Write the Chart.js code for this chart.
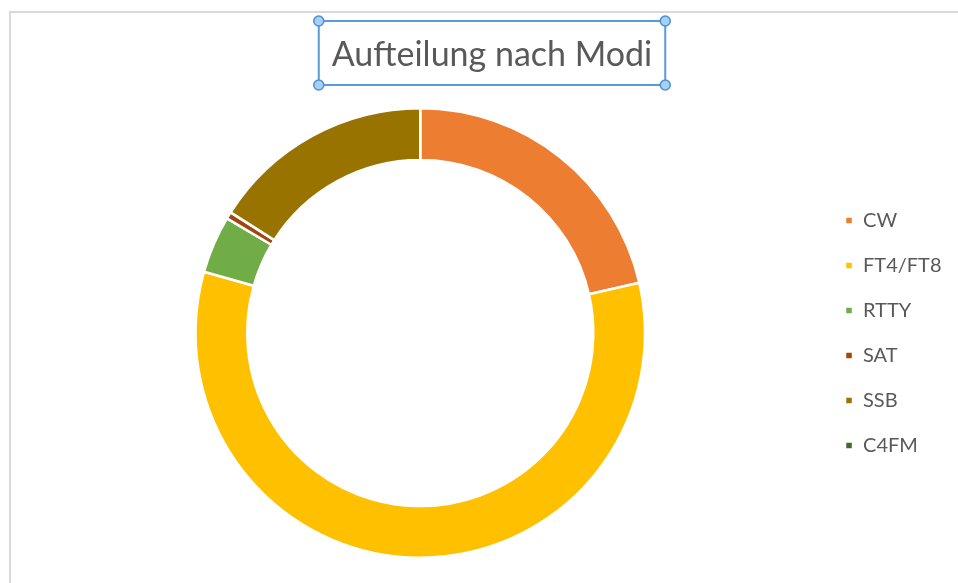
<!DOCTYPE html>
<html>
<head>
<meta charset="utf-8">
<script src="https://cdn.jsdelivr.net/npm/chart.js@4/dist/chart.umd.min.js"></script>
<style>
  html, body { margin: 0; padding: 0; background: #fff; }
  #wrap { width: 958px; height: 583px; position: relative; }
</style>
</head>
<body>
<div id="wrap"><canvas id="modiChart"></canvas></div>
<script>
const categories = ['CW', 'FT4/FT8', 'RTTY', 'SAT', 'SSB', 'C4FM'];
const qsoCounts = [213, 577, 41, 5, 159, 0];
const segmentColors = ['#ED7D31', '#FFC000', '#70AD47', '#9E480E', '#997300', '#43682B'];
const chartTitle = 'Aufteilung nach Modi';

const fontFamily = 'Lato, "Liberation Sans", sans-serif';

// frame + selected title box like in the spreadsheet screenshot
const decorPlugin = {
  id: 'decor',
  beforeDraw(chart) {
    const ctx = chart.ctx;
    ctx.save();
    ctx.strokeStyle = '#d9d9d9';
    ctx.lineWidth = 2;
    ctx.beginPath();
    ctx.moveTo(10, chart.height);
    ctx.lineTo(10, 12);
    ctx.lineTo(chart.width, 12);
    ctx.stroke();
    ctx.restore();
  },
  afterDraw(chart) {
    const ctx = chart.ctx;
    ctx.save();
    ctx.font = '34px ' + fontFamily;
    ctx.fillStyle = '#595959';
    ctx.textAlign = 'center';
    ctx.textBaseline = 'alphabetic';
    const cx = 492;
    ctx.fillText(chartTitle, cx, 66);
    const w = ctx.measureText(chartTitle).width;
    const x0 = cx - w / 2 - 13, x1 = cx + w / 2 + 13;
    const y0 = 21, y1 = 85;
    ctx.strokeStyle = '#5B9BD5';
    ctx.lineWidth = 2;
    ctx.strokeRect(x0, y0, x1 - x0, y1 - y0);
    [[x0, y0], [x1, y0], [x0, y1], [x1, y1]].forEach(([hx, hy]) => {
      ctx.beginPath();
      ctx.arc(hx, hy, 5, 0, Math.PI * 2);
      ctx.fillStyle = '#A9CFF2';
      ctx.fill();
      ctx.lineWidth = 1.5;
      ctx.strokeStyle = '#4A90D9';
      ctx.stroke();
    });
    ctx.restore();
  }
};

new Chart(document.getElementById('modiChart'), {
  type: 'doughnut',
  data: {
    labels: categories,
    datasets: [{
      data: qsoCounts,
      backgroundColor: segmentColors,
      borderColor: '#ffffff',
      borderWidth: 2.5
    }]
  },
  options: {
    responsive: true,
    maintainAspectRatio: false,
    animation: false,
    cutout: '77%',
    layout: { padding: { top: 107, bottom: 24, left: 20.5, right: 6.5 } },
    plugins: {
      title: { display: false },
      tooltip: { enabled: false },
      legend: {
        position: 'right',
        align: 'center',
        labels: {
          boxWidth: 8,
          boxHeight: 8,
          padding: 25,
          color: '#595959',
          font: { family: fontFamily, size: 20 }
        }
      }
    }
  },
  plugins: [decorPlugin]
});
</script>
</body>
</html>
